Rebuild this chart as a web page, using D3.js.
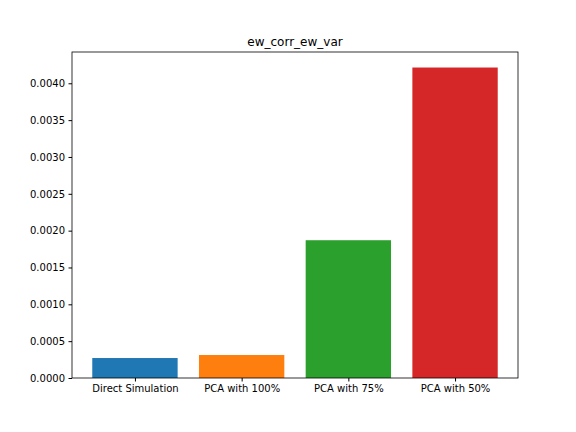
<!DOCTYPE html>
<html>
<head>
<meta charset="UTF-8">
<style>
  body { margin: 0; background: #fff; }
  text { font-family: "DejaVu Sans", sans-serif; }
</style>
</head>
<body>
<script src="https://cdn.jsdelivr.net/npm/d3@7"></script>
<script>
  // data
  var categories = ["Direct Simulation", "PCA with 100%", "PCA with 75%", "PCA with 50%"];
  var values = [0.000271, 0.000312, 0.00187, 0.004214];
  var colors = ["#1f77b4", "#ff7f0e", "#2ca02c", "#d62728"];
  var yTicks = [0, 0.0005, 0.001, 0.0015, 0.002, 0.0025, 0.003, 0.0035, 0.004];

  var width = 576, height = 432;
  var plotLeft = 72, plotRight = 518, plotTop = 52, plotBottom = 378;

  var svg = d3.select("body").append("svg")
    .attr("width", width).attr("height", height);

  // matplotlib-style continuous x with bar width 0.8 and 5% margins
  var x = d3.scaleLinear().domain([-0.59, 3.59]).range([plotLeft, plotRight]);
  var y = d3.scaleLinear().domain([0, d3.max(values) * 1.05]).range([plotBottom, plotTop]);

  svg.selectAll("rect.bar")
    .data(values)
    .enter().append("rect")
    .attr("class", "bar")
    .attr("x", function(d, i) { return x(i - 0.4); })
    .attr("width", function(d, i) { return x(i + 0.4) - x(i - 0.4); })
    .attr("y", function(d) { return y(d); })
    .attr("height", function(d) { return plotBottom - y(d); })
    .attr("fill", function(d, i) { return colors[i]; });

  // y axis
  var yAxis = d3.axisLeft(y).tickValues(yTicks).tickFormat(d3.format(".4f")).tickSizeOuter(0).tickSize(3.5).tickPadding(3.5);
  var gy = svg.append("g").attr("transform", "translate(" + plotLeft + ",0)").call(yAxis);
  gy.select(".domain").remove();
  gy.selectAll("text").attr("font-size", 10).attr("fill", "#000").style("font-family", "DejaVu Sans");

  // x axis
  var xAxis = d3.axisBottom(x).tickValues([0, 1, 2, 3])
    .tickFormat(function(d) { return categories[d]; }).tickSize(3.5).tickPadding(3.5);
  var gx = svg.append("g").attr("transform", "translate(0," + plotBottom + ")").call(xAxis);
  gx.select(".domain").remove();
  gx.selectAll("text").attr("font-size", 10).attr("fill", "#000").style("font-family", "DejaVu Sans");

  // frame
  svg.append("rect")
    .attr("x", plotLeft).attr("y", plotTop)
    .attr("width", plotRight - plotLeft).attr("height", plotBottom - plotTop)
    .attr("fill", "none").attr("stroke", "#000").attr("stroke-width", 0.8);

  // title
  svg.append("text")
    .attr("x", (plotLeft + plotRight) / 2).attr("y", plotTop - 6)
    .attr("text-anchor", "middle").attr("font-size", 12)
    .text("ew_corr_ew_var");
</script>
</body>
</html>
